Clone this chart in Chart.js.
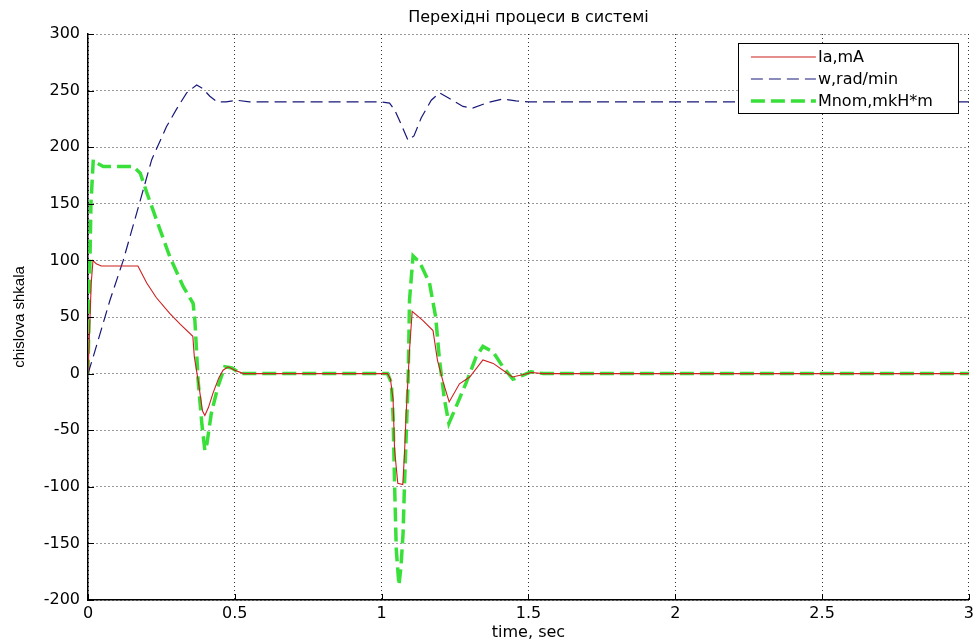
<!DOCTYPE html>
<html>
<head>
<meta charset="utf-8">
<script src="https://cdn.jsdelivr.net/npm/chart.js@4.4.1/dist/chart.umd.min.js"></script>
<style>
html,body{margin:0;padding:0;background:#fff;}
#c{display:block;}
</style>
</head>
<body>
<canvas id="c" width="978" height="644"></canvas>
<script>
// ---- text ----
const titleText = 'Перехідні процеси в системі';
const xTitle = 'time, sec';
const yTitle = 'chislova shkala';
const seriesNames = ['Ia,mA', 'w,rad/min', 'Mnom,mkH*m'];

// ---- tick labels ----
const xTicks = [0, 0.5, 1, 1.5, 2, 2.5, 3];
const xTickLabels = ['0', '0.5', '1', '1.5', '2', '2.5', '3'];
const yTicks = [-200, -150, -100, -50, 0, 50, 100, 150, 200, 250, 300];
const yTickLabels = ['-200', '-150', '-100', '-50', '0', '50', '100', '150', '200', '250', '300'];

// ---- series: Ia,mA ----
const iaTime = [0, 0.005, 0.011, 0.017, 0.028, 0.045, 0.17, 0.2, 0.233, 0.279, 0.313, 0.357, 0.362, 0.375, 0.39, 0.398, 0.41, 0.426, 0.445, 0.46, 0.477, 0.5, 0.53, 1.02, 1.03, 1.039, 1.044, 1.055, 1.072, 1.078, 1.083, 1.095, 1.104, 1.14, 1.175, 1.19, 1.21, 1.23, 1.265, 1.3, 1.345, 1.38, 1.424, 1.445, 1.48, 1.51, 1.55, 3];
const iaVal  = [0, 35, 80, 100, 97, 95, 95, 80, 67, 53, 44, 33, 15, -6, -33, -37, -30, -17, -4, 3, 6, 3, 0, 0, -5, -23, -67, -97, -98, -70, -38, 21, 55, 47, 38, 12, -8, -25, -9, -3, 12, 9, 1, -3, -1, 1, 0, 0];

// ---- series: w,rad/min ----
const wTime = [0, 0.018, 0.075, 0.12, 0.166, 0.217, 0.267, 0.3, 0.336, 0.37, 0.39, 0.415, 0.44, 0.47, 0.506, 0.55, 1.0, 1.027, 1.044, 1.06, 1.09, 1.11, 1.135, 1.169, 1.197, 1.231, 1.277, 1.31, 1.356, 1.41, 1.457, 1.5, 3];
const wVal  = [0, 15, 65, 100, 142, 189, 218, 233, 248, 255, 252, 245, 240, 240, 241.5, 240, 240, 239, 233, 224, 206, 210, 226, 241.5, 248, 243, 236, 234.5, 239, 242.5, 241, 240, 240];

// ---- series: Mnom,mkH*m ----
const mTime = [0, 0.004, 0.01, 0.018, 0.03, 0.052, 0.154, 0.178, 0.2, 0.233, 0.279, 0.324, 0.358, 0.364, 0.367, 0.375, 0.388, 0.398, 0.405, 0.42, 0.443, 0.466, 0.49, 0.52, 1.02, 1.033, 1.039, 1.044, 1.05, 1.059, 1.066, 1.073, 1.078, 1.09, 1.095, 1.107, 1.13, 1.163, 1.184, 1.197, 1.214, 1.229, 1.254, 1.288, 1.322, 1.345, 1.38, 1.413, 1.447, 1.48, 1.508, 1.55, 3];
const mVal  = [0, 60, 150, 189, 186, 183, 183, 177, 160, 136, 103, 77, 62, 47, 33, -6, -45, -68, -62, -35, -11, 6, 5, 0, 0, -8, -38, -97, -156, -187, -170, -141, -97, -8, 65, 104, 98, 80, 50, 12, -23, -44, -29, -8, 15, 24, 19, 6, -5, -1.5, 1.6, 0, 0];

const pts = (ts, vs) => ts.map((t, i) => ({x: t, y: vs[i]}));

const HFONT = 'DejaVu Sans';
const VFONT = 'Liberation Sans';
const FS = 16;

const inwardTicks = {
  id: 'inwardTicks',
  afterDatasetsDraw(chart) {
    const {ctx, chartArea, scales} = chart;
    ctx.save();
    ctx.strokeStyle = '#000';
    ctx.lineWidth = 1;
    ctx.beginPath();
    scales.y.ticks.forEach(t => {
      const p = Math.round(scales.y.getPixelForValue(t.value)) + 0.5;
      ctx.moveTo(chartArea.left, p); ctx.lineTo(chartArea.left + 6, p);
    });
    scales.x.ticks.forEach(t => {
      const p = Math.round(scales.x.getPixelForValue(t.value)) + 0.5;
      ctx.moveTo(p, chartArea.bottom); ctx.lineTo(p, chartArea.bottom - 6);
    });
    ctx.stroke();
    ctx.restore();
  }
};

const plotTitle = {
  id: 'plotTitle',
  afterDraw(chart) {
    const {ctx, chartArea} = chart;
    ctx.save();
    ctx.fillStyle = '#000';
    ctx.font = FS + 'px "' + HFONT + '"';
    ctx.textAlign = 'center';
    ctx.textBaseline = 'middle';
    ctx.fillText(titleText, (chartArea.left + chartArea.right) / 2, 18);
    ctx.restore();
  }
};

const legendBox = {
  id: 'legendBox',
  afterDraw(chart) {
    const {ctx, chartArea} = chart;
    const w = 220, h = 70;
    const x0 = chartArea.right - 11 - w, y0 = chartArea.top + 9;
    ctx.save();
    ctx.fillStyle = '#fff';
    ctx.fillRect(x0, y0, w, h);
    ctx.strokeStyle = '#000';
    ctx.lineWidth = 1;
    ctx.setLineDash([]);
    ctx.strokeRect(Math.round(x0) + 0.5, Math.round(y0) + 0.5, w, h);
    chart.data.datasets.forEach((ds, i) => {
      const y = y0 + 14 + i * 22;
      ctx.beginPath();
      ctx.setLineDash(ds.borderDash || []);
      ctx.strokeStyle = ds.borderColor;
      ctx.lineWidth = ds.borderWidth;
      ctx.moveTo(x0 + 13, y); ctx.lineTo(x0 + 78, y);
      ctx.stroke();
      ctx.setLineDash([]);
      ctx.fillStyle = '#000';
      ctx.font = FS + 'px "' + HFONT + '"';
      ctx.textBaseline = 'middle';
      ctx.textAlign = 'left';
      ctx.fillText(ds.label, x0 + 80, y + 1);
    });
    ctx.restore();
  }
};

Chart.defaults.font.family = HFONT;
Chart.defaults.font.size = FS;
Chart.defaults.color = '#000';

new Chart(document.getElementById('c'), {
  type: 'line',
  data: {
    datasets: [
      {label: seriesNames[0], data: pts(iaTime, iaVal), borderColor: '#cc1f1f', borderWidth: 1.1, pointRadius: 0, tension: 0, fill: false},
      {label: seriesNames[1], data: pts(wTime, wVal), borderColor: '#181878', borderWidth: 1.2, borderDash: [12, 6], pointRadius: 0, tension: 0, fill: false},
      {label: seriesNames[2], data: pts(mTime, mVal), borderColor: '#3ae03a', borderWidth: 3.5, borderDash: [14, 6], pointRadius: 0, tension: 0, fill: false}
    ]
  },
  options: {
    responsive: false,
    animation: false,
    devicePixelRatio: 1,
    layout: {padding: {left: 0, right: 8, top: 34, bottom: 0}},
    plugins: {
      legend: {display: false},
      tooltip: {enabled: false},
      title: {display: false}
    },
    scales: {
      x: {
        type: 'linear',
        min: xTicks[0],
        max: xTicks[xTicks.length - 1],
        afterBuildTicks: s => { s.ticks = xTicks.map(v => ({value: v})); },
        afterFit: s => { s.height = 44; },
        ticks: {
          padding: 4, color: '#000', font: {family: HFONT, size: FS}, maxRotation: 0, autoSkip: false,
          callback: (v) => xTickLabels[xTicks.indexOf(v)] ?? String(v)
        },
        grid: {color: 'rgba(0,0,0,0.8)', lineWidth: 1, drawTicks: false},
        border: {display: true, color: '#000', width: 1.5, dash: [1, 3]},
        title: {display: true, text: xTitle, color: '#000', font: {family: HFONT, size: FS}, padding: {top: 0, bottom: 2}}
      },
      y: {
        type: 'linear',
        min: yTicks[0],
        max: yTicks[yTicks.length - 1],
        afterBuildTicks: s => { s.ticks = yTicks.map(v => ({value: v})); },
        afterFit: s => { s.width = 88; },
        ticks: {
          padding: 8, color: '#000', font: {family: HFONT, size: FS}, autoSkip: false,
          callback: (v) => yTickLabels[yTicks.indexOf(v)] ?? String(v)
        },
        grid: {color: 'rgba(0,0,0,0.8)', lineWidth: 1, drawTicks: false},
        border: {display: true, color: '#000', width: 1.5, dash: [1, 3]},
        title: {display: true, text: yTitle, color: '#000', font: {family: VFONT, size: 15}, padding: {top: 11, bottom: 0}}
      }
    }
  },
  plugins: [inwardTicks, legendBox, plotTitle]
});
</script>
</body>
</html>
